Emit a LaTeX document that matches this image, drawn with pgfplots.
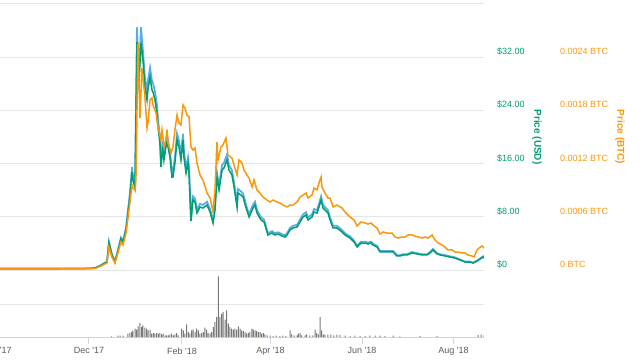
\documentclass[border=0pt]{standalone}
\usepackage{pgfplots}
\usepackage{pgfplotstable}
\pgfplotsset{compat=1.18}
\usepackage{fontspec}
\setmainfont{Liberation Sans}
\definecolor{cgreen}{RGB}{0,158,115}
\definecolor{cblue}{RGB}{90,172,228}
\definecolor{corange}{RGB}{250,152,10}
\definecolor{cgrid}{RGB}{230,230,230}
\definecolor{caxis}{RGB}{204,214,235}
\definecolor{clab}{RGB}{90,90,90}
\definecolor{cvol}{RGB}{120,120,120}

\pgfplotstableread{
d g b
-59.3 0.20 0.21
-40 0.20 0.21
-20 0.20 0.21
0.7 0.23 0.24
4 0.30 0.32
7.3 0.60 0.63
10.7 1.05 1.10
12 1.20 1.26
13.3 4.06 4.26
15.3 2.26 2.37
17.3 1.20 1.26
19.3 2.86 3.00
21.3 4.66 4.89
22.7 4.21 4.42
24.7 6.02 6.32
26 8.57 9.00
27.3 10.98 11.53
28.7 14.74 15.48
29.3 13.53 14.21
30.7 12.33 12.95
32 34.29 36.5
33.3 28.12 29.2
34.7 34.14 36.5
36 31.58 32.8
37.3 27.52 28.9
38.7 25.56 26.8
39.3 27.07 28.4
40.7 29.02 30.4
42 27.07 28.4
42.7 26.77 28.1
44 25.56 26.8
45.3 23.61 24.8
46 21.50 22.6
47.3 19.10 20.1
48 15.49 16.3
49.3 18.50 19.4
50 16.54 17.4
52 19.55 20.5
52.7 18.50 19.4
54 16.99 17.8
55.3 13.98 14.7
56 13.98 14.7
57.3 16.09 16.9
58.7 19.55 20.5
60 18.50 19.4
61.3 16.54 17.4
62.7 19.55 20.5
63.3 16.99 17.8
64.7 14.59 15.3
66 16.09 16.9
66.7 14.59 15.3
68 7.37 7.74
69.3 10.53 11.06
70.7 10.23 10.74
72 8.57 9.00
74 9.47 9.94
76 9.32 9.79
78.7 9.77 10.26
80.7 8.72 9.16
82.7 7.07 7.42
84 9.02 9.47
85.3 13.98 14.68
86.7 12.03 12.63
88.7 15.04 15.79
90 15.34 16.11
92 16.54 17.37
93.3 15.04 15.79
95.3 14.29 15.00
96.7 12.48 13.10
98.7 9.47 9.94
99.3 11.58 12.16
101.3 11.28 11.84
102.7 10.98 11.53
104.7 9.32 9.79
106.7 7.97 8.37
109.3 9.32 9.79
110.7 9.77 10.26
112 8.57 9.00
114.7 7.52 7.90
116.7 7.22 7.58
119.3 5.26 5.52
122 5.56 5.84
124 5.26 5.52
126 5.41 5.68
128.7 5.11 5.37
130.7 4.96 5.21
132 5.26 5.52
134 6.02 6.32
136 6.32 6.64
138.7 6.47 6.79
140.7 7.22 7.58
142.7 7.97 8.37
144.7 8.27 8.68
146 7.52 7.90
148.7 7.97 8.37
150 8.72 9.16
152 8.57 9.00
153.3 9.47 9.94
154.7 10.53 11.06
156 9.32 9.79
157.3 9.02 9.47
159.3 8.57 9.00
160.7 7.52 7.90
162.7 6.32 6.64
165.3 6.32 6.64
168.7 5.71 6.00
170.7 5.26 5.52
174 4.81 5.05
176.7 4.21 4.42
178.7 3.46 3.63
181.3 4.06 4.26
184 4.06 4.26
186 3.91 4.11
188 4.06 4.26
189.3 3.76 3.95
192 3.46 3.63
194 2.71 2.85
197.3 2.71 2.85
200.7 2.71 2.85
202.7 2.71 2.85
205.3 2.11 2.22
207.3 2.11 2.22
209.3 2.26 2.37
212 2.26 2.37
215.3 2.56 2.69
218.7 2.41 2.53
222 2.26 2.37
225.3 2.26 2.37
227.3 2.56 2.69
229.3 3.01 3.16
232 2.41 2.53
234 2.26 2.37
237.3 2.11 2.22
240.7 1.95 2.05
244 1.80 1.89
247.3 1.50 1.58
250.7 1.20 1.26
254 1.20 1.26
256 1.05 1.10
258.7 1.35 1.42
260.7 1.65 1.73
262.7 1.95 2.05
263.3 1.80 1.89
}\usdtab

\pgfplotstableread{
d btc
-59.3 0.000015
-40 0.000015
-20 0.000015
4 0.000017
7.3 0.000039
10.7 0.000068
12 0.000079
13.3 0.000259
15.3 0.000147
17.3 0.000079
19.3 0.000192
21.3 0.000316
22.7 0.000282
24.7 0.000417
26 0.000586
27.3 0.000756
28.7 0.000959
29.3 0.000925
30.7 0.000902
31.3 0.001015
32.7 0.00256
34 0.001714
35.3 0.002278
37.3 0.001951
38.7 0.001601
39.3 0.001658
40.7 0.001917
42 0.00194
42.7 0.001861
44.7 0.001771
46 0.001613
48 0.001466
48.7 0.001579
50 0.001387
51.3 0.001466
52 0.001579
52.7 0.001432
54.7 0.00132
56 0.001387
57.3 0.001579
58.7 0.001748
60 0.001658
61.3 0.001635
62.7 0.001861
64 0.001827
65.3 0.001748
66.7 0.001726
68 0.001387
69.3 0.001353
70.7 0.001376
72 0.001207
74 0.001071
76 0.001015
78.7 0.000868
80.7 0.000812
82.7 0.000654
84 0.000902
85.3 0.001444
86 0.001241
88 0.001387
89.3 0.00141
91.3 0.001489
92.7 0.001297
95.3 0.001263
97.3 0.00115
98.7 0.001071
100 0.001241
102 0.001207
103.3 0.001128
105.3 0.001071
106.7 0.001038
108.7 0.000936
110 0.001015
112 0.000902
114 0.000868
116 0.000823
118.7 0.000789
120.7 0.000767
122.7 0.000789
125.3 0.000767
127.3 0.000756
129.3 0.000733
132 0.000711
134 0.000733
136 0.000733
138.7 0.000767
140.7 0.000823
142.7 0.000846
144.7 0.000868
146 0.000812
148.7 0.000846
150 0.000925
152 0.000902
153.3 0.000981
154.7 0.001049
155.3 0.000936
157.3 0.000868
159.3 0.000812
160.7 0.000812
162.7 0.000711
165.3 0.000733
168.7 0.000699
170.7 0.000654
174 0.000598
176.7 0.000564
178.7 0.000496
181.3 0.000541
184 0.00053
186 0.000519
188 0.00053
189.3 0.000508
192 0.000474
194 0.000406
196 0.000429
198.7 0.000417
202 0.000417
204 0.000372
206 0.000361
208.7 0.000372
210.7 0.000372
212.7 0.000395
215.3 0.000395
217.3 0.000383
219.3 0.000372
222 0.000361
224 0.000372
226 0.000361
228.7 0.000395
230.7 0.000338
232.7 0.000305
235.3 0.000282
237.3 0.000259
239.3 0.000226
242 0.000226
244 0.000203
246 0.000203
248.7 0.000192
250.7 0.000192
252.7 0.000169
255.3 0.000158
256.7 0.000147
258.7 0.000226
260 0.000248
262 0.000271
263.3 0.000248
}\btctab

\pgfplotstableread{
d v
15.1 0.7
19.3 1.3
20.7 1.3
22.7 1.3
26 3.3
27.3 4
28.5 5
29.3 6.7
30.7 8.3
31.8 7.3
32.7 10.7
34 14
35.1 10
36 11.7
37.3 9.3
38.5 8.3
39.5 6.7
40.7 7.3
41.8 3.3
42.9 4
44 3.3
45.1 4
46.2 3.3
47.3 4
48.5 2.7
49.5 3.3
50.7 1.7
51.8 1.7
52.9 1.7
54 2.3
55.1 3.3
56.2 1.7
57.3 2.7
58.5 4
59.5 1.7
61.8 8.3
62.9 6.7
64 3.3
65.1 12.7
66.2 5
67.3 3.3
68.5 6.7
69.5 7.3
70.7 5
71.8 8.3
72.9 6.7
74 3.3
75.1 4
76.2 5
77.3 9.3
78.5 7.3
79.5 4
80.7 3.3
81.8 5
82.9 10
84 15
85.1 20
86.2 60.7
87.3 20
88.5 23.3
89.5 25
90.7 17.3
91.8 26.7
92.9 13.3
94 10
95.1 8.3
96.2 7.3
97.3 8.3
98.5 7.3
99.5 10.7
100.7 8.3
101.8 6.7
102.9 6
104 5
105.1 3.3
106.2 4
107.3 5
108.5 8.3
109.5 7.3
110.7 6.7
111.8 6
112.9 5
114 5
115.1 3.3
116.2 4
117.3 2.7
118.7 1.7
120.7 1.3
122.7 1
124.7 1.3
127.3 1
129.3 1.3
131.3 1
134 6.7
135.1 2.7
136.7 1.7
138.7 1.7
139.5 3.3
140.7 4
141.8 1.7
144 1.7
145.1 2.7
147.3 1.7
149.3 1.7
150.7 7.3
151.8 4
152.9 2.7
154 20
155.1 6.7
156.2 2.3
157.3 2.3
159.3 2.3
161.3 2.3
163.3 1.7
165.3 2.3
167.3 2
170.7 1.3
174 1
177.3 1.3
180.7 1
184 1
187.3 1.3
190.7 1.3
194 1.3
197.3 1
202.7 1.3
207.3 0.7
220.7 1
232 1
259.3 2
261.3 2.5
263.3 1.7
}\voltab

\begin{document}
\begin{tikzpicture}

% volume pane
\begin{axis}[at={(0pt,25pt)}, anchor=south west, scale only axis,
  width=484pt, height=67pt,
  xmin=-59.3, xmax=263.3, ymin=0, ymax=67,
  axis x line*=bottom, axis y line*=left,
  x axis line style={caxis, line width=1pt},
  y axis line style={draw=none},
  xtick={0,62,121,182,243},
  xticklabels={Dec \textquotesingle17, Feb \textquotesingle18, Apr \textquotesingle18, Jun \textquotesingle18, Aug \textquotesingle18},
  xtick style={caxis, line width=1pt},
  tick align=outside, major tick length=7pt,
  xticklabel style={font=\fontsize{9}{10}\selectfont, text=clab},
  ytick={32.4}, yticklabels={}, ytick style={draw=none},
  ymajorgrids, grid style={cgrid, line width=1pt},
]
\addplot[ybar, bar width=1pt, fill=cvol, draw=none] table[x=d, y=v] {\voltab};
\end{axis}
\node[font=\fontsize{9}{10}\selectfont, text=clab] at (-2.5pt,12pt) {Oct \textquotesingle17};

% price pane USD
\begin{axis}[at={(0pt,92pt)}, anchor=south west, scale only axis,
  width=484pt, height=266pt,
  xmin=-59.3, xmax=263.3, ymin=0, ymax=40,
  axis line style={draw=none},
  xtick=\empty,
  ytick={0,8,16,24,32,40},
  yticklabels={\$0, \$8.00, \$16.00, \$24.00, \$32.00, {}},
  yticklabel pos=right,
  ytick style={draw=none},
  yticklabel style={anchor=west, inner sep=0pt, xshift=13pt, yshift=5.5pt,
    text=cgreen, font=\fontsize{9}{10}\selectfont},
  ymajorgrids, grid style={cgrid, line width=1pt},
]
\addplot[cblue, line width=1.8pt] table[x=d, y=b] {\usdtab};
\addplot[cgreen, line width=1.5pt] table[x=d, y=g] {\usdtab};
\end{axis}

% price pane BTC
\begin{axis}[at={(0pt,92pt)}, anchor=south west, scale only axis,
  width=484pt, height=266pt,
  xmin=-59.3, xmax=263.3, ymin=0, ymax=0.003,
  scaled y ticks=false,
  axis line style={draw=none},
  xtick=\empty,
  ytick={0,0.0006,0.0012,0.0018,0.0024},
  yticklabels={0 BTC, 0.0006 BTC, 0.0012 BTC, 0.0018 BTC, 0.0024 BTC},
  yticklabel pos=right,
  ytick style={draw=none},
  yticklabel style={anchor=west, inner sep=0pt, xshift=76pt, yshift=5.5pt,
    text=corange, font=\fontsize{9}{10}\selectfont},
]
\addplot[corange, line width=1.5pt] table[x=d, y=btc] {\btctab};
\end{axis}

\node[rotate=-90, font=\bfseries\fontsize{10}{12}\selectfont, text=cgreen] at (537pt,225pt) {Price (USD)};
\node[rotate=-90, font=\bfseries\fontsize{10}{12}\selectfont, text=corange] at (620pt,225pt) {Price (BTC)};

\pgfresetboundingbox
\path[use as bounding box] (0pt,0pt) rectangle (640pt,362pt);
\end{tikzpicture}
\end{document}
